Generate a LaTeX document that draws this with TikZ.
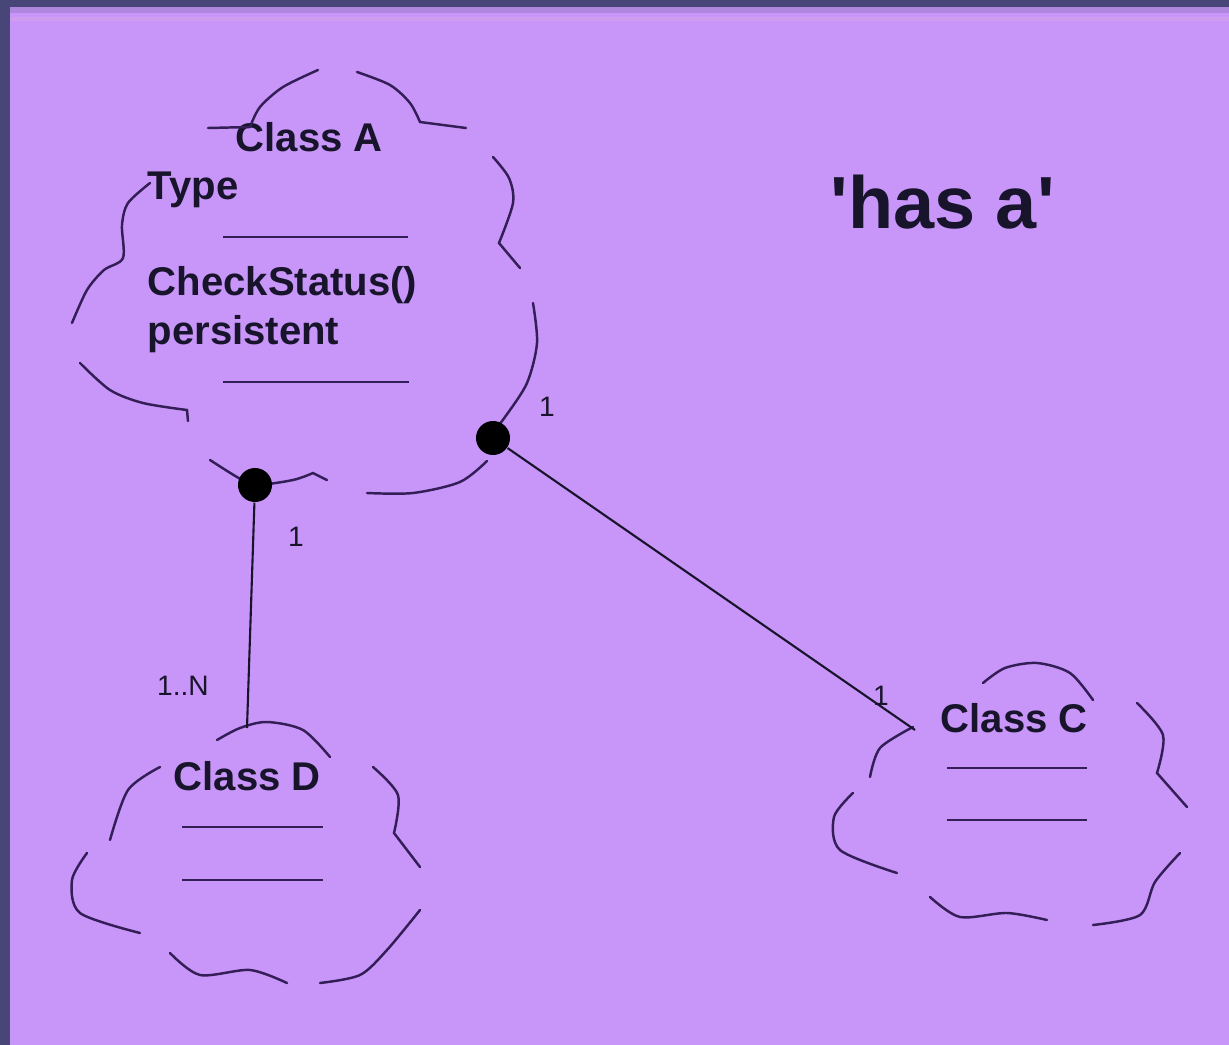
\documentclass[tikz,border=0pt]{standalone}
\usepackage{fontspec}
\setmainfont{Liberation Sans}
\newfontfamily\headfont{Liberation Sans}
\usetikzlibrary{positioning}
\definecolor{panel}{RGB}{200,150,248}
\definecolor{frame}{RGB}{72,70,120}
\definecolor{inkline}{RGB}{52,30,88}
\definecolor{inktext}{RGB}{24,20,44}
\tikzset{
  cloudline/.style={draw=inkline, line width=0.7pt, line cap=round},
  memberline/.style={draw=inkline, line width=0.8pt},
  link/.style={draw=inktext, line width=0.6pt},
  classtext/.style={inktext, inner sep=0pt, font=\fontsize{11.4}{13}\selectfont\bfseries},
  multiplicity/.style={inktext, inner sep=0pt, font=\fontsize{8}{9}\selectfont},
  joint/.style={circle, fill=black, inner sep=0pt, minimum size=0.34cm},
}

\begin{document}
\begin{tikzpicture}[x=0.01cm,y=-0.01cm]
		% panel and frame
		\fill[panel] (0,0) rectangle (1229,1045);
		\useasboundingbox (0,0) rectangle (1229,1045);
		\fill[frame] (0,0) rectangle (1229,7);
		\fill[frame] (0,0) rectangle (10,1045);
		\fill[panel!80!frame] (10,7) rectangle (1229,13);
		\fill[panel!85!pink] (10,17) rectangle (1229,21);

		% Class A
		\node[classtext, anchor=base west] (classA) at (235,151) {Class A};
		\node[classtext, anchor=base west] (typeA) at (147,199) {Type};
		\node[classtext, anchor=base west] (checkA) at (147,295) {CheckStatus()};
		\node[classtext, anchor=base west] (persistA) at (147,344) {persistent};
		\draw[memberline] (223,237) -- (408,237);
		\draw[memberline] (223,382) -- (409,382);
		\draw[cloudline] (208,128) -- (250,127);
		\draw[cloudline] plot[smooth] coordinates {(250,127) (260,107) (283,87) (318,70)};
		\draw[cloudline] plot[smooth] coordinates {(357,72) (390,85) (410,103) (420,122)} -- (466,128);
		\draw[cloudline] plot[smooth] coordinates {(493,157) (509,178) (513,203) (499,243)} -- (520,268);
		\draw[cloudline] plot[smooth] coordinates {(533,303) (537,343) (527,383) (505,417) (490,436)};
		\draw[cloudline] plot[smooth] coordinates {(487,461) (460,482) (413,493) (367,493)};
		\draw[cloudline] plot[smooth] coordinates {(210,460) (237,477) (255,485) (293,480) (313,473)} -- (327,480);
		\draw[cloudline] plot[smooth] coordinates {(80,363) (110,390) (143,403) (187,410)} -- (188,421);
		\draw[cloudline] plot[smooth] coordinates {(72,323) (87,290) (104,270) (123,258) (122,225) (128,203) (150,183)};
		\node[joint] (dotAD) at (255,485) {};
		\node[joint] (dotAC) at (493,438) {};

		% Class D
		\node[classtext, anchor=base west] (classD) at (173,790) {Class D};
		\draw[memberline] (182,827) -- (323,827);
		\draw[memberline] (182,880) -- (323,880);
		\coordinate (endD) at (247,728);
		\draw[cloudline] plot[smooth] coordinates {(217,740) (240,728) (267,722) (303,730) (330,757)};
		\draw[cloudline] plot[smooth] coordinates {(160,767) (128,790) (110,840)};
		\draw[cloudline] plot[smooth] coordinates {(373,767) (398,795) (394,833)} -- (420,867);
		\draw[cloudline] plot[smooth] coordinates {(87,853) (72,880) (80,913) (140,933)};
		\draw[cloudline] plot[smooth] coordinates {(170,953) (200,975) (250,970) (287,983)};
		\draw[cloudline] plot[smooth] coordinates {(320,983) (360,975) (387,950) (420,910)};

		% Class C
		\node[classtext, anchor=base west] (classC) at (940,732) {Class C};
		\draw[memberline] (947,768) -- (1087,768);
		\draw[memberline] (947,820) -- (1087,820);
		\coordinate (endC) at (915,730);
		\draw[cloudline] plot[smooth] coordinates {(983,683) (1005,668) (1037,663) (1070,673) (1093,700)};
		\draw[cloudline] plot[smooth] coordinates {(913,727) (880,748) (870,777)};
		\draw[cloudline] plot[smooth] coordinates {(1137,703) (1163,735) (1157,773)} -- (1187,807);
		\draw[cloudline] plot[smooth] coordinates {(853,793) (834,817) (840,850) (897,873)};
		\draw[cloudline] plot[smooth] coordinates {(930,897) (960,917) (1007,913) (1047,920)};
		\draw[cloudline] plot[smooth] coordinates {(1093,925) (1140,915) (1155,882) (1180,853)};

		% associations
		\draw[link] (dotAD) -- (endD);
		\draw[link] (dotAC) -- (endC);
		\node[multiplicity] (mAD) at (296,537) {1};
		\node[multiplicity] (mDA) at (183,686) {1..N};
		\node[multiplicity] (mAC) at (547,407) {1};
		\node[multiplicity] (mCA) at (881,696) {1};

		\node[inktext, anchor=base west, inner sep=0pt, font=\headfont\fontsize{21}{24}\selectfont\bfseries] (hasA) at (830,228) {'has a'};
\end{tikzpicture}
\end{document}
